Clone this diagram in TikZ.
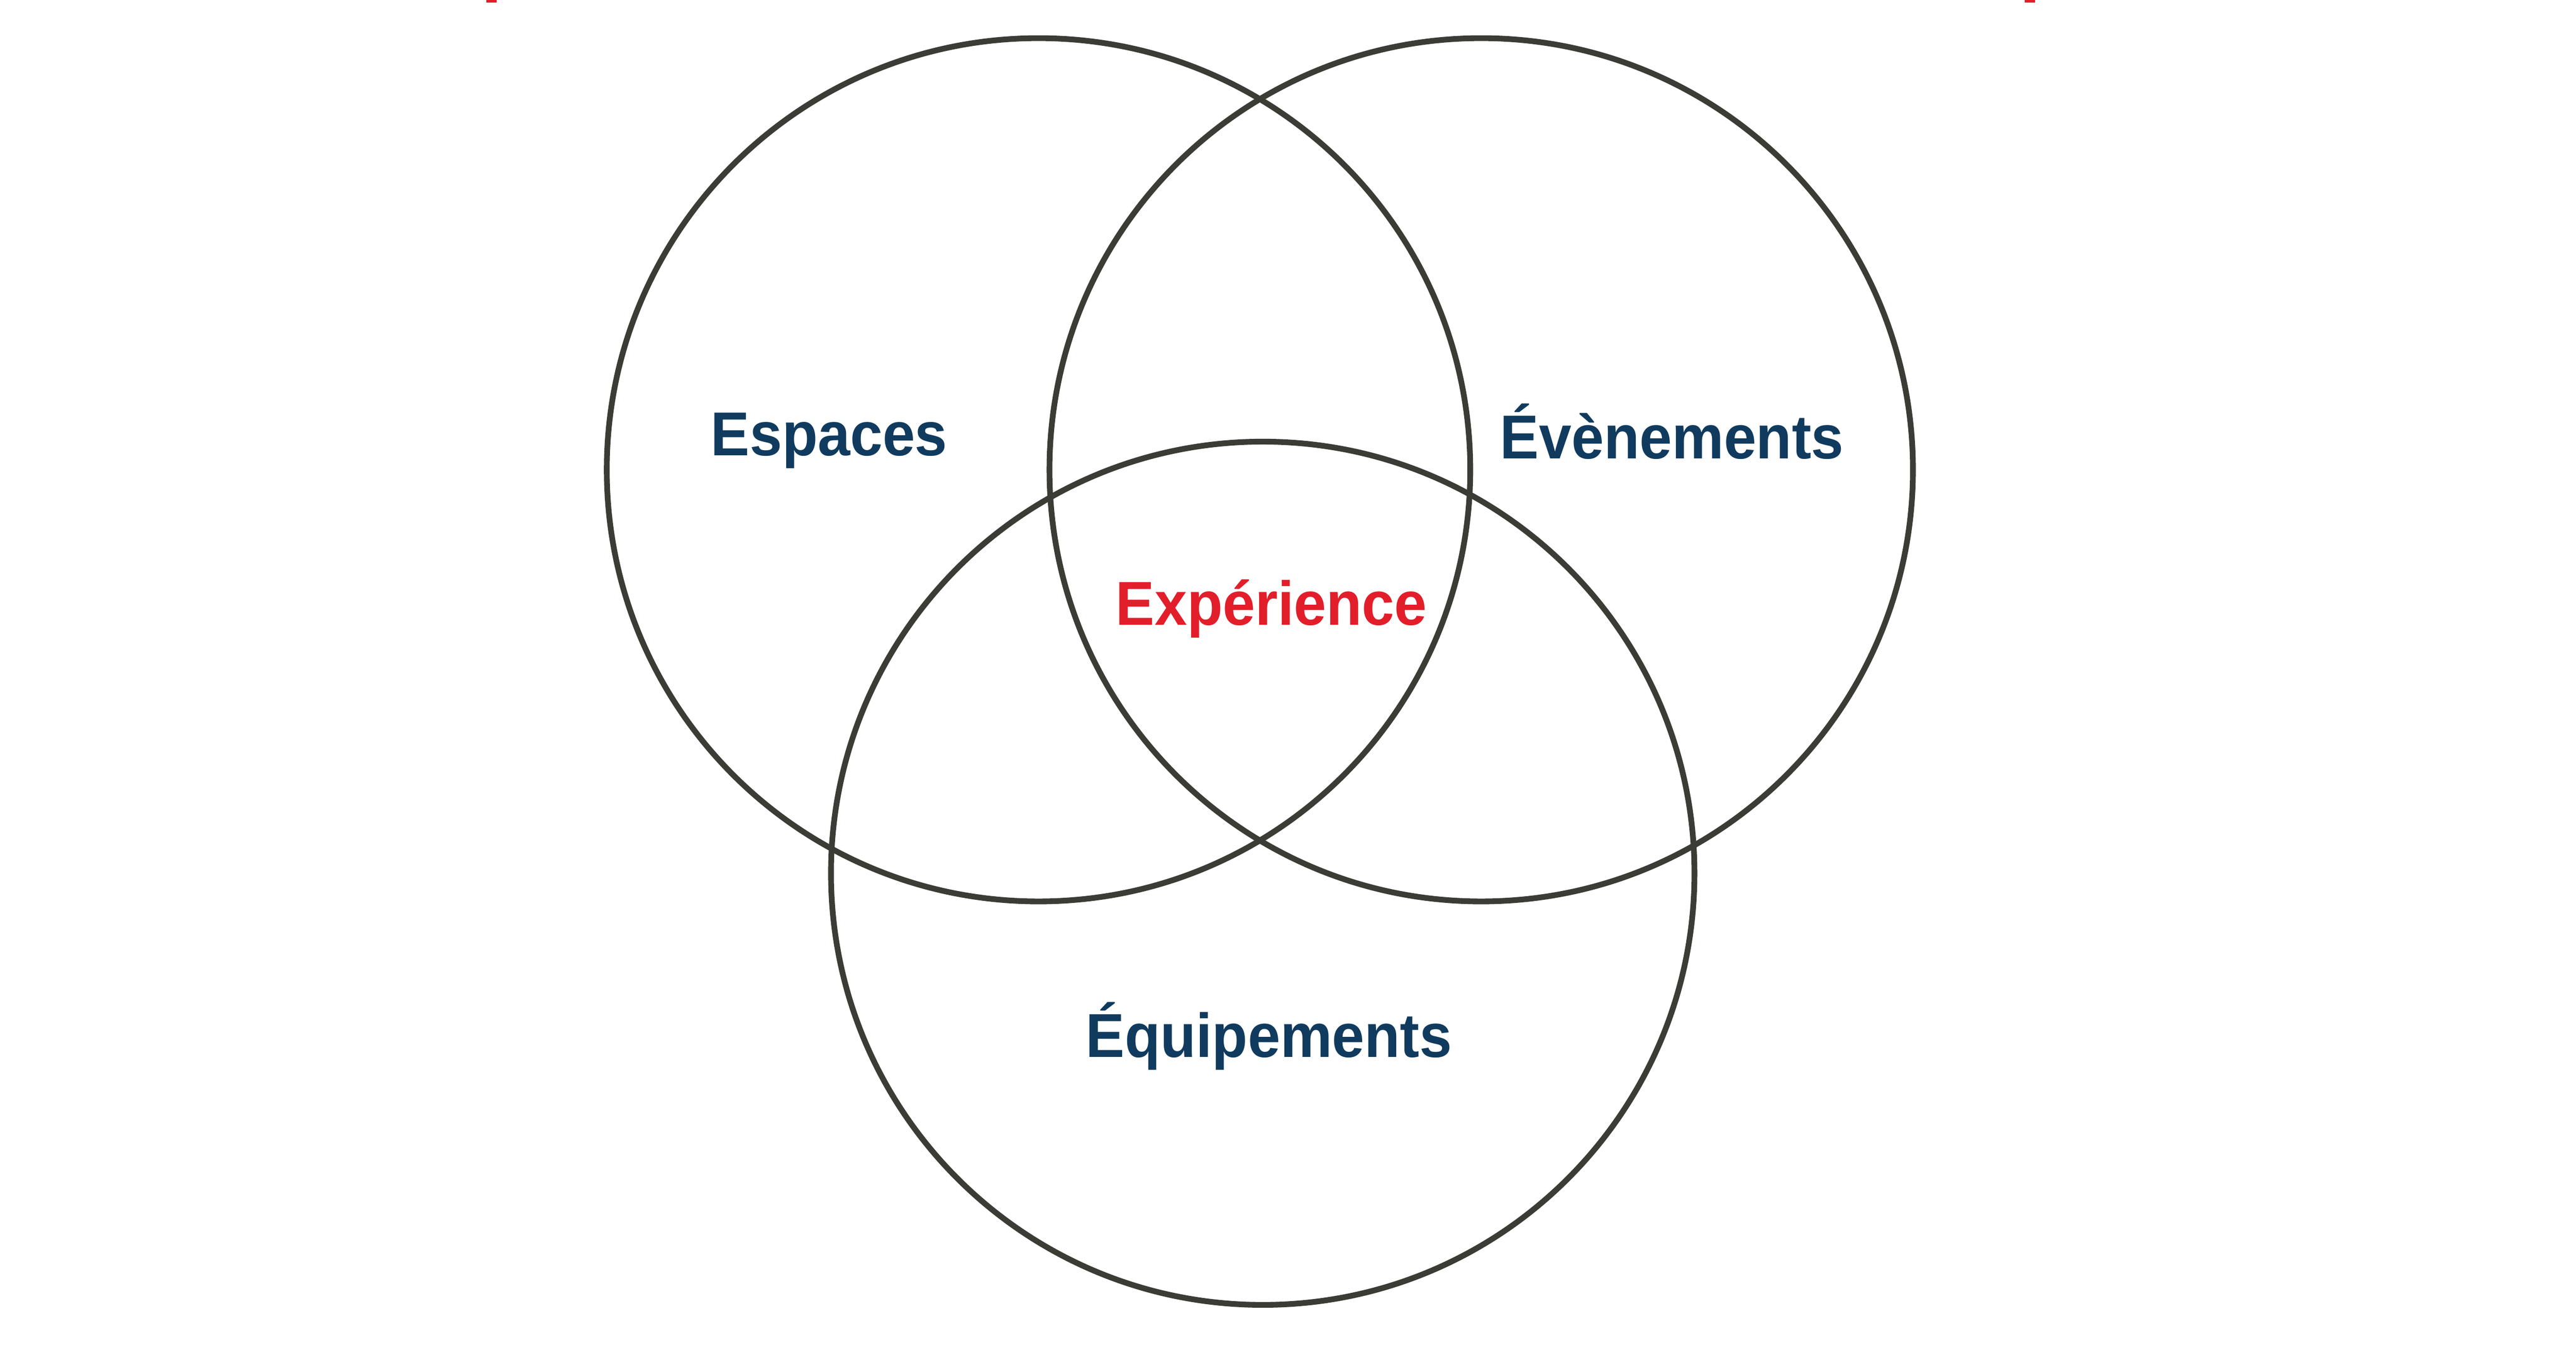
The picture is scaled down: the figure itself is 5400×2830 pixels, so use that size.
\documentclass[tikz,border=0pt]{standalone}
\usepackage{fontspec}
\setmainfont{Liberation Sans}
\newfontfamily\etroite{Liberation Sans}[FakeStretch=0.94]
\usepackage{xcolor}
\definecolor{bleu}{RGB}{16,59,94}
\definecolor{rouge}{RGB}{226,30,42}
\definecolor{trait}{RGB}{58,60,53}

\begin{document}
\begin{tikzpicture}[x=0.05mm, y=-0.05mm]
  \tikzstyle{ensemble}=[circle, draw=trait, line width=0.6mm, minimum size=90.5mm, inner sep=0pt]
  \tikzstyle{etiquette}=[anchor=base, font=\etroite\fontsize{18.5}{22}\selectfont\bfseries, text=bleu]
  \tikzstyle{centre}=[etiquette, text=rouge]

  \useasboundingbox (0,0) rectangle (5400,2830);

  % Restes du titre
  \fill[rouge] (1019,0) rectangle (1041,5);
  \fill[rouge] (4244,0) rectangle (4266,5);

  % Cercles
  \node[ensemble] (esp) at (2177,985) {};
  \node[ensemble] (eve) at (3105,985) {};
  \node[ensemble] (equ) at (2647,1831) {};

  % Etiquettes
  \node[etiquette] (lesp) at (1738,955) {Espaces};
  \node[etiquette] (leve) at (3505,962) {Évènements};
  \node[etiquette] (lequ) at (2660,2217) {Équipements};
  \node[centre] (lexp) at (2665,1310) {Expérience};
\end{tikzpicture}
\end{document}
